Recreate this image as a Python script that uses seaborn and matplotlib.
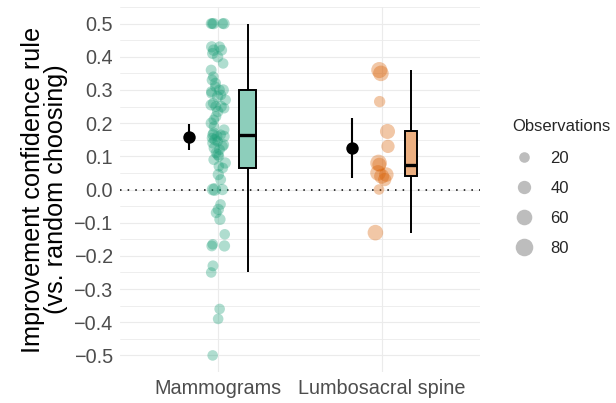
import numpy as np
import pandas as pd
import matplotlib
matplotlib.use("Agg")
import matplotlib.pyplot as plt
from matplotlib.lines import Line2D
from matplotlib.ticker import MultipleLocator
import seaborn as sns

# ---------------- data ----------------
categories = ["Mammograms", "Lumbosacral spine"]

mammo_values = [-0.50, -0.39, -0.36, -0.25, -0.23, -0.17, -0.17, -0.165, -0.135,
                -0.09, -0.07, -0.06, -0.045, 0.0, 0.0, 0.0, 0.03, 0.045, 0.065,
                0.07, 0.08, 0.09, 0.10, 0.105, 0.11, 0.12, 0.125, 0.13, 0.135,
                0.14, 0.145, 0.15, 0.155, 0.16, 0.16, 0.165, 0.165, 0.17, 0.18,
                0.19, 0.20, 0.21, 0.22, 0.235, 0.245, 0.25, 0.25, 0.255, 0.26,
                0.27, 0.28, 0.285, 0.29, 0.295, 0.30, 0.30, 0.31, 0.32, 0.33,
                0.34, 0.36, 0.38, 0.40, 0.41, 0.42, 0.42, 0.43, 0.43, 0.5, 0.5,
                0.5, 0.5, 0.5]
mammo_obs = [8, 20, 20, 12, 22, 25, 22, 18, 20,
             25, 22, 25, 20, 35, 30, 25, 22, 25, 20,
             18, 25, 22, 20, 25, 18, 22, 25, 20, 24,
             22, 18, 25, 20, 26, 22, 25, 20, 24, 22,
             20, 25, 18, 22, 25, 20, 26, 22, 24, 20,
             22, 25, 18, 22, 20, 25, 22, 20, 24, 22,
             18, 22, 20, 25, 24, 22, 26, 25, 22, 25, 22,
             20, 25, 18]

lumbo_values = [-0.13, 0.0, 0.03, 0.04, 0.045, 0.05, 0.075, 0.08, 0.13, 0.175,
                0.265, 0.35, 0.36]
lumbo_obs = [60, 15, 40, 55, 50, 60, 45, 70, 40, 55, 25, 60, 65]

mean_est = [0.159, 0.125]
ci_low = [0.119, 0.035]
ci_high = [0.198, 0.216]

yticks = [-0.5, -0.4, -0.3, -0.2, -0.1, 0.0, 0.1, 0.2, 0.3, 0.4, 0.5]
legend_breaks = [20, 40, 60, 80]

# ---------------- styling ----------------
point_colors = ["#1B9E77", "#D95F02"]
box_fills = ["#8DCEBB", "#ECAF80"]
box_widths = [0.108, 0.071]
jitter_w = [0.045, 0.04]
offset = 0.18
s_lo, s_hi = 58.0, 160.0  # marker areas (pt^2) for 20 and 80 observations


def size_of(v):
    return s_lo + (v - 20) / 60 * (s_hi - s_lo)


sns.set_style("white")
plt.rcParams["font.family"] = ["Liberation Sans", "DejaVu Sans"]

fig = plt.figure(figsize=(6.16, 4.03), dpi=100)
ax = fig.add_axes([0.1948, 0.0769, 0.779 - 0.1948, 0.9826 - 0.0769])

groups = [mammo_values, lumbo_values]
obs = [mammo_obs, lumbo_obs]
rng = np.random.default_rng(11)

for i, (vals, ob) in enumerate(zip(groups, obs)):
    n = len(vals)
    jitter = rng.uniform(-jitter_w[i], jitter_w[i], n)
    df = pd.DataFrame({"x": i + jitter, "value": vals, "obs": ob})
    sns.scatterplot(data=df, x="x", y="value", size="obs",
                    sizes=(s_lo, s_hi), size_norm=(20, 80),
                    color=point_colors[i], alpha=0.35, linewidth=0,
                    legend=False, ax=ax, zorder=3)

    dfb = pd.DataFrame({"pos": [i + offset] * n, "value": vals})
    sns.boxplot(data=dfb, x="pos", y="value", native_scale=True, orient="x",
                width=box_widths[i], showfliers=False, showcaps=False,
                color=box_fills[i], saturation=1, linecolor="black",
                linewidth=1.4, medianprops={"linewidth": 2.4, "color": "black"},
                ax=ax, zorder=4)

# mean + interval
mx = [i - offset for i in range(len(categories))]
ax.vlines(mx, ci_low, ci_high, color="black", lw=1.5, zorder=5)
sns.scatterplot(x=mx, y=mean_est, color="black", s=80, linewidth=0,
                ax=ax, zorder=6, legend=False)

# zero line
ax.axhline(0, color="black", lw=1.1, ls=(0, (1, 4)), zorder=2)

# axes
ax.set_xlim(-0.6, 1.6)
ax.set_ylim(-0.55, 0.55)
ax.set_xticks([0, 1])
ax.set_xticklabels(categories)
ax.set_yticks(yticks)
ax.set_yticklabels([f"{t:.1f}".replace("-", "\u2212") for t in yticks])
ax.yaxis.set_minor_locator(MultipleLocator(0.05))
ax.set_xlabel("")
ax.set_ylabel("Improvement confidence rule\n(vs. random choosing)",
              fontsize=18.2, color="black", labelpad=4, linespacing=0.95)

ax.grid(True, which="major", color="#EBEBEB", lw=0.85, zorder=0)
ax.grid(True, which="minor", axis="y", color="#EBEBEB", lw=0.6, zorder=0)
ax.set_axisbelow(True)
for sp in ax.spines.values():
    sp.set_visible(False)
ax.tick_params(axis="both", which="major", length=2.75, width=0.8,
               color="#333333", labelcolor="#4D4D4D", labelsize=14.3, pad=2.5)
ax.tick_params(axis="y", which="minor", length=0)
ax.set_facecolor("white")

# legend
handles = [Line2D([], [], marker="o", linestyle="", markersize=np.sqrt(size_of(b)),
                  markerfacecolor="#BDBDBD", markeredgewidth=0)
           for b in legend_breaks]
leg = fig.legend(handles, [str(b) for b in legend_breaks], title="Observations",
                 loc="upper left", bbox_to_anchor=(0.831, 0.705), frameon=False,
                 borderpad=0, borderaxespad=0,
                 fontsize=12, title_fontsize=12, labelspacing=0.9,
                 handletextpad=0.9, handlelength=1.4, alignment="left")
leg._legend_box.sep = 12

fig.savefig("out.png", dpi=100, facecolor="white")
